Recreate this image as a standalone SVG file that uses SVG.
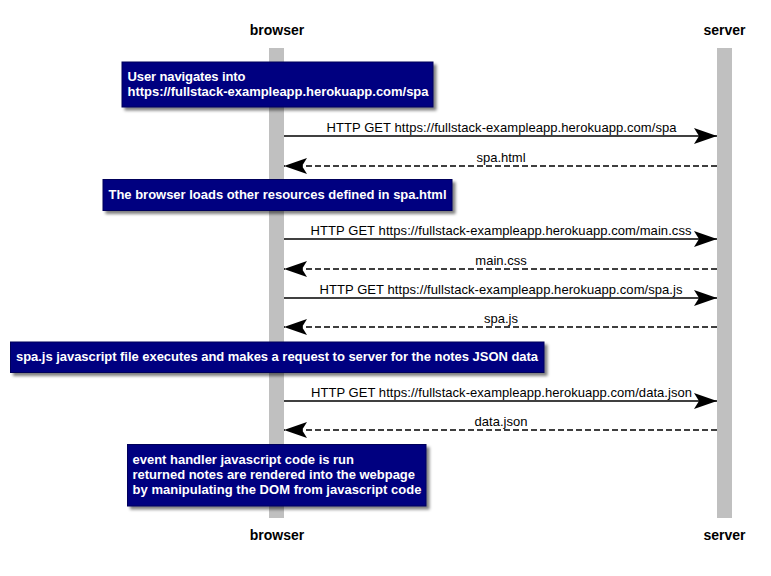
<svg xmlns="http://www.w3.org/2000/svg" width="771" height="576" viewBox="0 0 771 576">
<style>
.head{font-family:"Liberation Sans",Arial,sans-serif;font-size:14px;font-weight:bold;fill:#000;text-anchor:middle}
.msg{font-family:"Liberation Sans",Arial,sans-serif;font-size:13px;fill:#000;text-anchor:middle}
.note rect.box{fill:#000080;stroke:#00005a;stroke-width:1}
.note text{font-family:"Liberation Sans",Arial,sans-serif;font-size:13px;font-weight:bold;fill:#fff}
.life{fill:#C0C0C0}
.solid{stroke:#000;stroke-width:1.5;fill:none}
.dash{stroke:#000;stroke-width:1.5;fill:none;stroke-dasharray:6,3}
</style>
<defs>
<filter id="sh" x="-5%" y="-20%" width="115%" height="160%">
<feGaussianBlur in="SourceAlpha" stdDeviation="1.5"/>
<feOffset dx="3" dy="3" result="b"/>
<feComponentTransfer><feFuncA type="linear" slope="0.5"/></feComponentTransfer>
<feMerge><feMergeNode/><feMergeNode in="SourceGraphic"/></feMerge>
</filter>
<marker id="ah" markerUnits="userSpaceOnUse" markerWidth="24" markerHeight="18" viewBox="0 0 24 18" refX="23" refY="9" orient="auto">
<path d="M0,1 L23,9 L0,17 L5,9 Z" fill="#000"/>
</marker>
</defs>
<rect width="771" height="576" fill="#fff"/>
<g id="browser">
<text class="head" x="277" y="35">browser</text>
<rect class="life" x="269" y="48" width="15" height="470"/>
<text class="head" x="277" y="540">browser</text>
</g>
<g id="server">
<text class="head" x="724.5" y="35">server</text>
<rect class="life" x="717" y="48" width="15" height="470"/>
<text class="head" x="724.5" y="540">server</text>
</g>
<g id="connectors">
<line class="solid" x1="284" y1="136" x2="717" y2="136" marker-end="url(#ah)"/>
<text class="msg" x="501.5" y="132" textLength="350">HTTP GET https://fullstack-exampleapp.herokuapp.com/spa</text>
<line class="dash" x1="717" y1="166" x2="284" y2="166" marker-end="url(#ah)"/>
<text class="msg" x="501" y="162">spa.html</text>
<line class="solid" x1="284" y1="239" x2="717" y2="239" marker-end="url(#ah)"/>
<text class="msg" x="501" y="235" textLength="381">HTTP GET https://fullstack-exampleapp.herokuapp.com/main.css</text>
<line class="dash" x1="717" y1="269" x2="284" y2="269" marker-end="url(#ah)"/>
<text class="msg" x="501" y="265">main.css</text>
<line class="solid" x1="284" y1="298" x2="717" y2="298" marker-end="url(#ah)"/>
<text class="msg" x="501" y="294" textLength="363">HTTP GET https://fullstack-exampleapp.herokuapp.com/spa.js</text>
<line class="dash" x1="717" y1="327" x2="284" y2="327" marker-end="url(#ah)"/>
<text class="msg" x="501" y="323">spa.js</text>
<line class="solid" x1="284" y1="401" x2="717" y2="401" marker-end="url(#ah)"/>
<text class="msg" x="501.5" y="397" textLength="381">HTTP GET https://fullstack-exampleapp.herokuapp.com/data.json</text>
<line class="dash" x1="717" y1="430" x2="284" y2="430" marker-end="url(#ah)"/>
<text class="msg" x="501" y="426">data.json</text>
</g>
<g id="note1" class="note">
<rect class="box" x="122" y="62" width="311" height="45" filter="url(#sh)"/>
<text x="127.5" y="81" textLength="118">User navigates into</text>
<text x="127.5" y="96" textLength="301">https://fullstack-exampleapp.herokuapp.com/spa</text>
</g>
<g id="note2" class="note">
<rect class="box" x="103" y="179.5" width="349" height="31" filter="url(#sh)"/>
<text x="108.5" y="198.5" textLength="338">The browser loads other resources defined in spa.html</text>
</g>
<g id="note3" class="note">
<rect class="box" x="10.5" y="342" width="533.5" height="30.5" filter="url(#sh)"/>
<text x="16" y="361" textLength="522">spa.js javascript file executes and makes a request to server for the notes JSON data</text>
</g>
<g id="note4" class="note">
<rect class="box" x="127.5" y="444.5" width="298.5" height="61.5" filter="url(#sh)"/>
<text x="132.5" y="463.5" textLength="221.5">event handler javascript code is run</text>
<text x="132.5" y="478.5" textLength="282.5">returned notes are rendered into the webpage</text>
<text x="132.5" y="493.5" textLength="289">by manipulating the DOM from javascript code</text>
</g>
</svg>
